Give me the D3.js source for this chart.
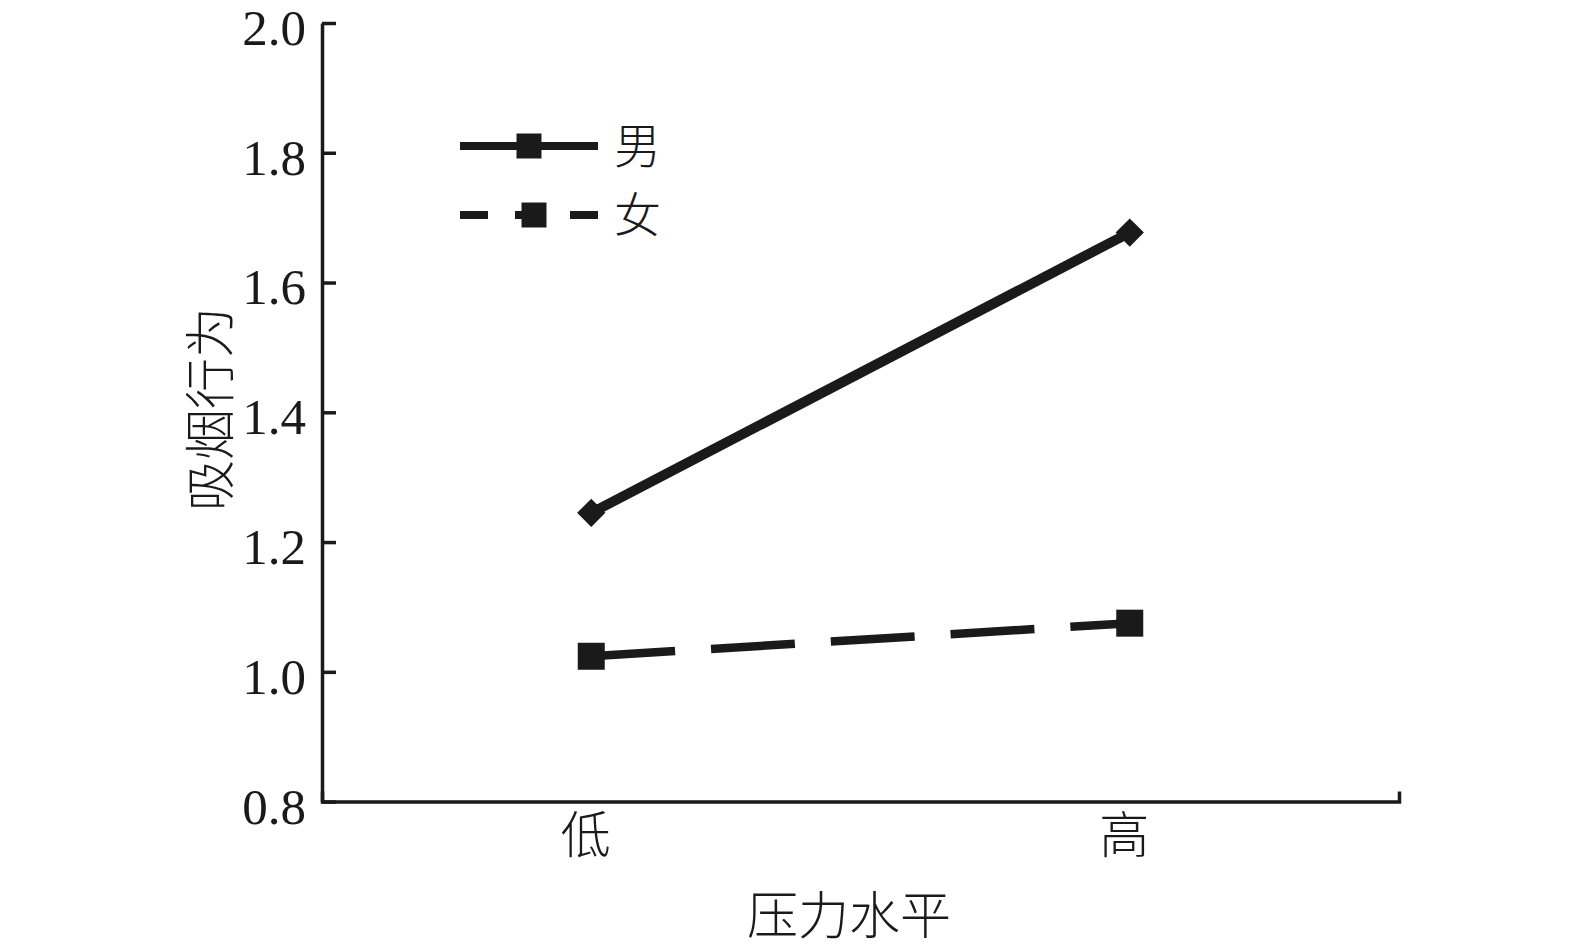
<!DOCTYPE html>
<html>
<head>
<meta charset="utf-8">
<script src="https://cdn.jsdelivr.net/npm/d3@7"></script>
<style>
  body { margin: 0; background: #fff; }
  .num { font-family: "Liberation Serif", "Times New Roman", serif; }
  .cjk { font-family: "Noto Sans CJK SC", sans-serif; font-weight: 300; }
</style>
</head>
<body>
<script>
var width = 1575, height = 951

// data
var levels = ["低", "高"]
var seriesNames = ["男", "女"]
var maleVals = [1.245, 1.677]
var femaleVals = [1.024, 1.075]
var yTicks = [0.8, 1.0, 1.2, 1.4, 1.6, 1.8, 2.0]

var plotLeft = 322, plotRight = 1399, plotTop = 23, plotBottom = 801.6
var ink = "#1a1a1a"

var svg = d3.select("body").append("svg")
    .attr("width", width)
    .attr("height", height)

var x = d3.scalePoint()
    .domain(levels)
    .range([plotLeft, plotRight])
    .padding(0.5)

var y = d3.scaleLinear()
    .domain([0.8, 2.0])
    .range([plotBottom, plotTop])

// Y AXIS (ticks point inward)
var yAxis = svg.append("g")
    .attr("transform", "translate(" + plotLeft + ",0)")
    .call(d3.axisLeft(y).tickValues(yTicks).tickFormat(d3.format(".1f"))
        .tickSizeInner(-14).tickSizeOuter(0).tickPadding(16))
yAxis.select(".domain").attr("stroke", ink).attr("stroke-width", 3.5)
yAxis.selectAll(".tick line").attr("stroke", ink).attr("stroke-width", 3.5)
yAxis.selectAll(".tick text")
    .attr("class", "num")
    .attr("x", -16)
    .attr("dy", "0.42em")
    .attr("font-size", 51)
    .attr("fill", ink)

// X AXIS (only the end tick going up)
var xAxis = svg.append("g")
    .attr("transform", "translate(0," + plotBottom + ")")
    .call(d3.axisBottom(x).tickSizeInner(0).tickSizeOuter(-10).tickPadding(16))
xAxis.select(".domain").attr("stroke", ink).attr("stroke-width", 3.5)
xAxis.selectAll(".tick text")
    .attr("class", "cjk")
    .attr("dx", "-0.12em")
    .attr("font-size", 50)
    .attr("fill", ink)

// AXIS TITLES
svg.append("text")
    .attr("class", "cjk")
    .attr("transform", "translate(229,409) rotate(-90)")
    .attr("text-anchor", "middle")
    .attr("font-size", 51)
    .attr("fill", ink)
    .text("吸烟行为")

svg.append("text")
    .attr("class", "cjk")
    .attr("x", 849)
    .attr("y", 934)
    .attr("text-anchor", "middle")
    .attr("font-size", 51)
    .attr("fill", ink)
    .text("压力水平")

// LINES
var line = d3.line()
    .x(function(d, i) { return x(levels[i]) })
    .y(function(d) { return y(d) })

svg.append("path")
    .datum(maleVals)
    .attr("d", line)
    .attr("fill", "none")
    .attr("stroke", ink)
    .attr("stroke-width", 10)

svg.append("path")
    .datum(femaleVals)
    .attr("d", line)
    .attr("fill", "none")
    .attr("stroke", ink)
    .attr("stroke-width", 8.5)
    .attr("stroke-dasharray", "84,36")

// MARKERS
svg.selectAll(".male-pt")
    .data(maleVals)
  .enter().append("path")
    .attr("class", "male-pt")
    .attr("d", d3.symbol().type(d3.symbolSquare).size(400))
    .attr("transform", function(d, i) { return "translate(" + x(levels[i]) + "," + y(d) + ") rotate(45)" })
    .attr("fill", ink)

svg.selectAll(".female-pt")
    .data(femaleVals)
  .enter().append("path")
    .attr("class", "female-pt")
    .attr("d", d3.symbol().type(d3.symbolSquare).size(729))
    .attr("transform", function(d, i) { return "translate(" + x(levels[i]) + "," + y(d) + ")" })
    .attr("fill", ink)

// LEGEND
var legend = svg.selectAll(".legend")
    .data(seriesNames)
  .enter().append("g")
    .attr("class", "legend")
    .attr("transform", function(d, i) { return "translate(460," + (146 + i * 69) + ")" })

legend.append("line")
    .attr("x1", 0)
    .attr("x2", 138)
    .attr("stroke", ink)
    .attr("stroke-width", 8)
    .attr("stroke-dasharray", function(d, i) { return i === 0 ? null : "28,27" })

legend.append("path")
    .attr("d", d3.symbol().type(d3.symbolSquare).size(625))
    .attr("transform", function(d, i) { return "translate(" + (i === 0 ? 69 : 74) + ",0)" })
    .attr("fill", ink)

legend.append("text")
    .attr("class", "cjk")
    .attr("x", 154)
    .attr("dy", "0.36em")
    .attr("font-size", 47)
    .attr("fill", ink)
    .text(function(d) { return d })
</script>
</body>
</html>
